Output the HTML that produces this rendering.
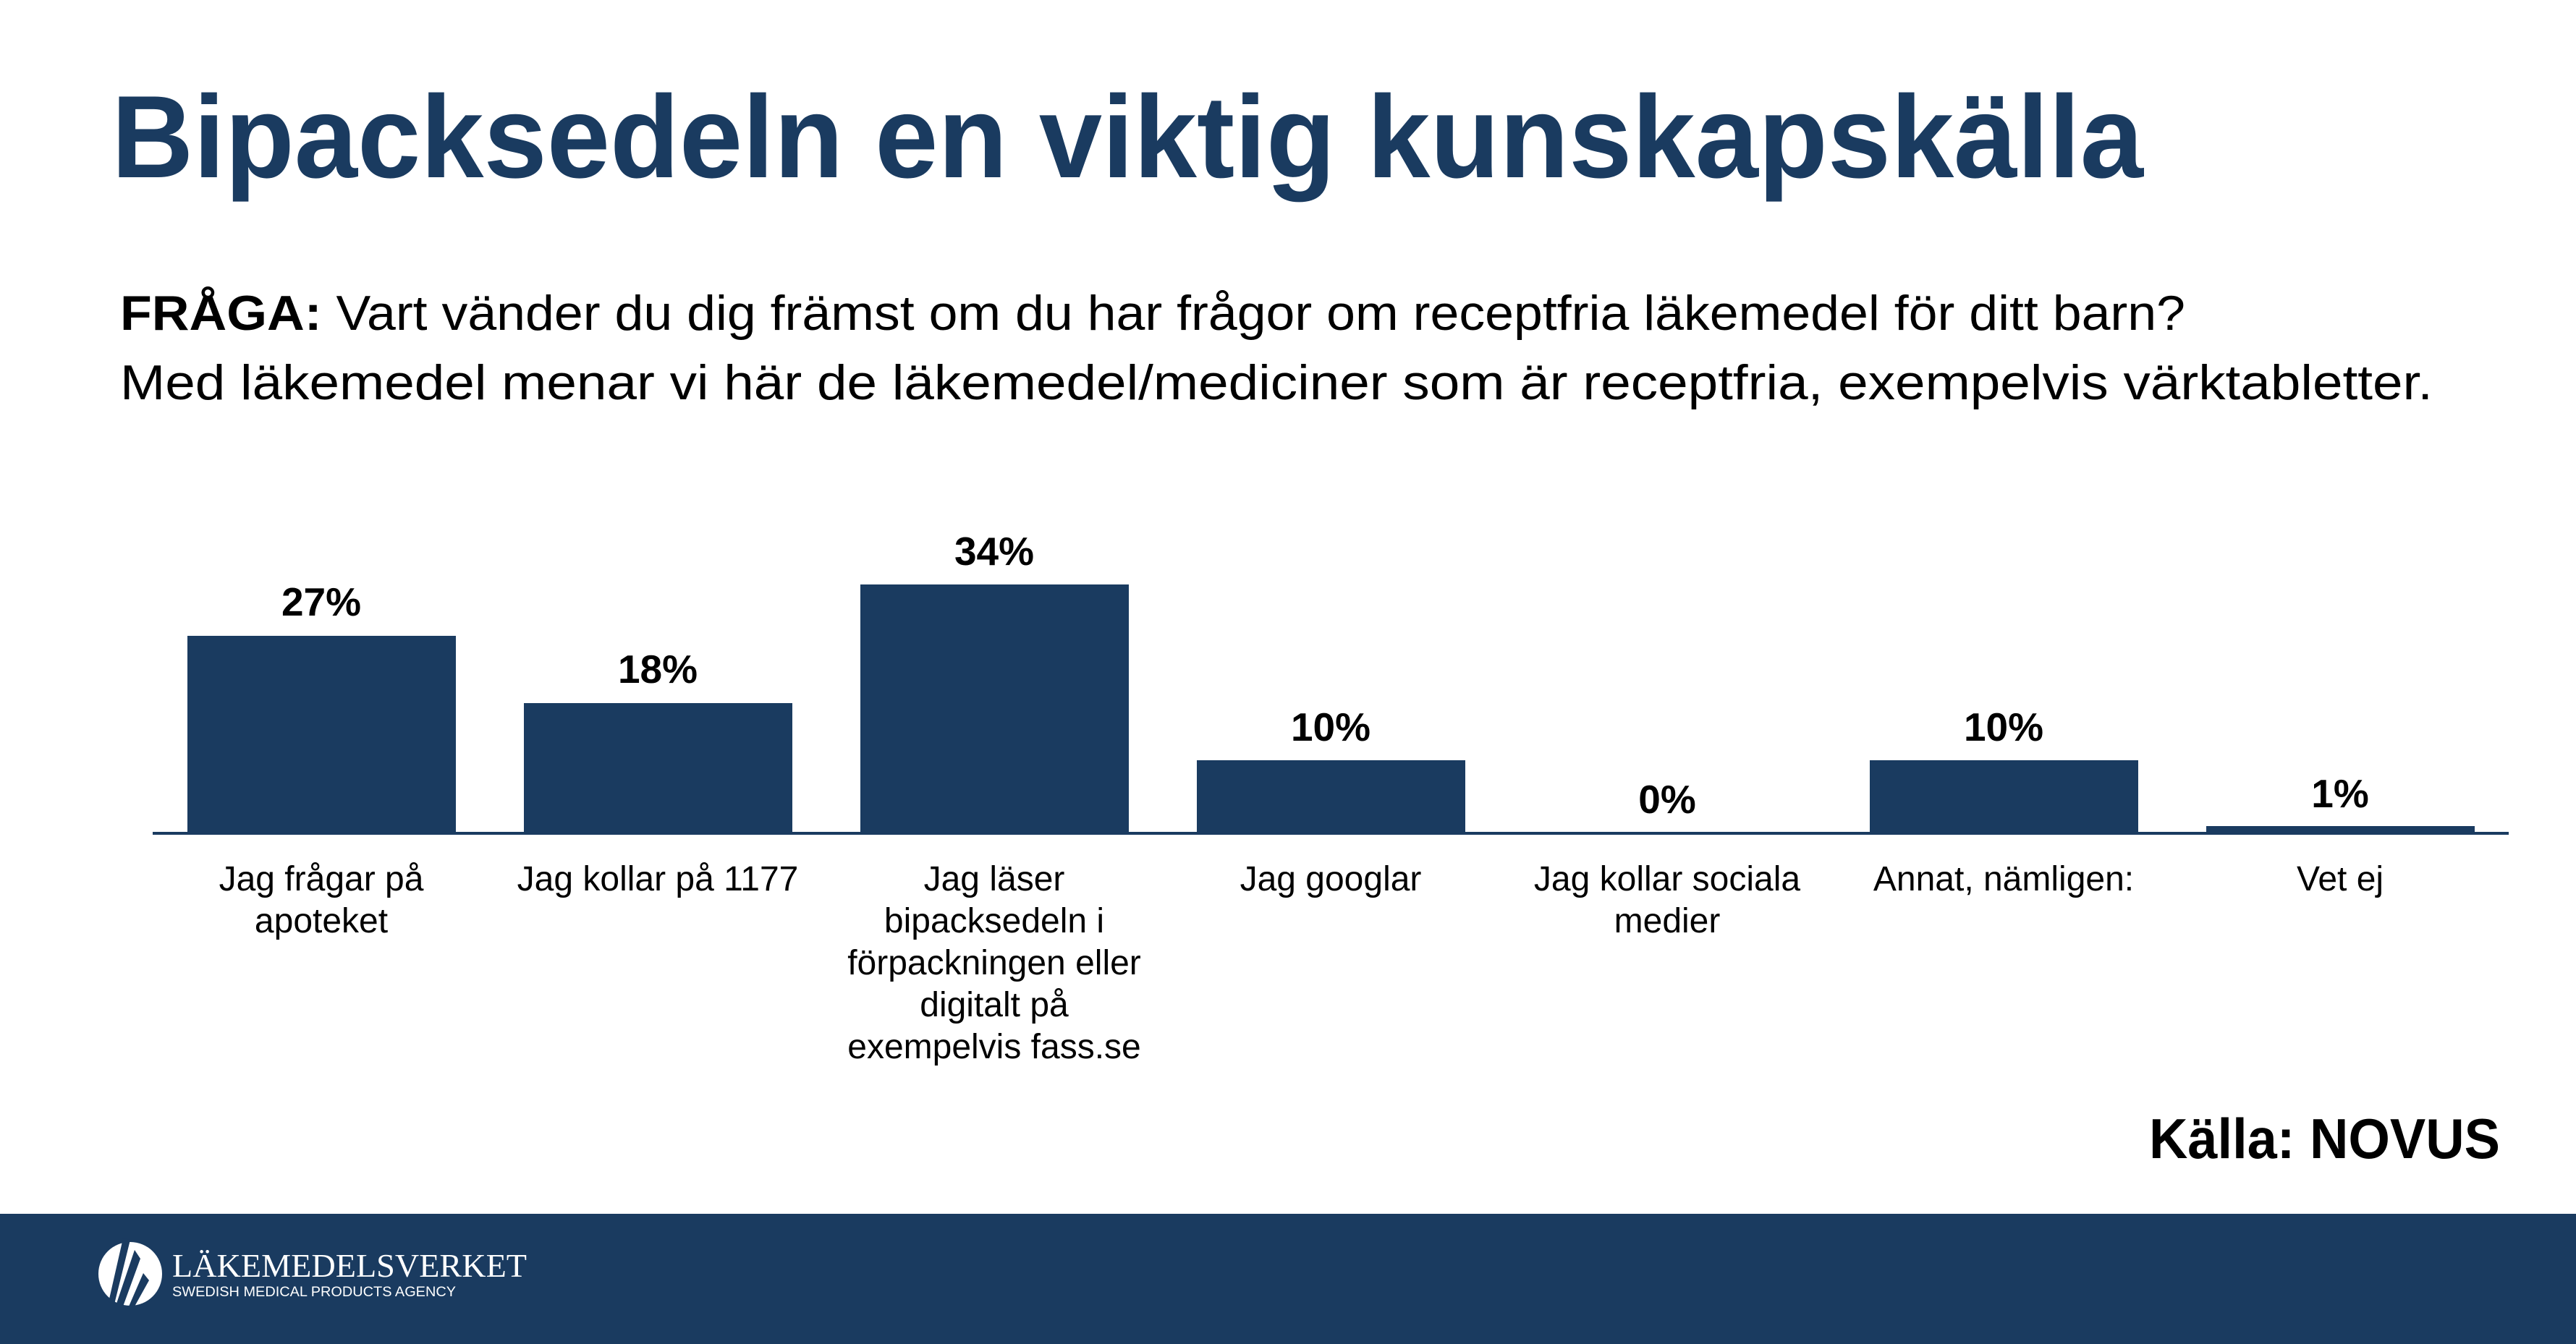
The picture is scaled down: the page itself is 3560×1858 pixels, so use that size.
<!DOCTYPE html>
<html><head><meta charset="utf-8"><style>
html,body{margin:0;padding:0;background:#fff}
svg{display:block}
text{font-family:"Liberation Sans",Arial,sans-serif}
</style></head><body>
<svg width="3560" height="1858" viewBox="0 0 3560 1858" xmlns="http://www.w3.org/2000/svg">
<rect width="3560" height="1858" fill="#fff"/>
<text x="154" y="245" font-size="162" font-weight="bold" fill="#1a3b60" textLength="2808" lengthAdjust="spacingAndGlyphs">Bipacksedeln en viktig kunskapskälla</text>
<text x="166" y="456" font-size="68" fill="#000" textLength="2854" lengthAdjust="spacingAndGlyphs"><tspan font-weight="bold">FRÅGA:</tspan> Vart vänder du dig främst om du har frågor om receptfria läkemedel för ditt barn?</text>
<text x="166" y="552" font-size="68" fill="#000" textLength="3196" lengthAdjust="spacingAndGlyphs">Med läkemedel menar vi här de läkemedel/mediciner som är receptfria, exempelvis värktabletter.</text>
<g fill="#1a3b60">
<rect x="259" y="879" width="371" height="273"/>
<rect x="724" y="972" width="371" height="180"/>
<rect x="1189" y="808" width="371" height="344"/>
<rect x="1654" y="1051" width="371" height="101"/>
<rect x="2584" y="1051" width="371" height="101"/>
<rect x="3049" y="1142" width="371" height="10"/>
<rect x="211" y="1150" width="3256" height="4"/>
</g>
<g font-size="55" font-weight="bold" text-anchor="middle" fill="#000">
<text x="444" y="851">27%</text>
<text x="909" y="944">18%</text>
<text x="1374" y="781">34%</text>
<text x="1839" y="1024">10%</text>
<text x="2304" y="1124">0%</text>
<text x="2769" y="1024">10%</text>
<text x="3234" y="1116">1%</text>
</g>
<g font-size="48" text-anchor="middle" fill="#000">
<text x="444" y="1231">Jag frågar på</text>
<text x="444" y="1289">apoteket</text>
<text x="909" y="1231">Jag kollar på 1177</text>
<text x="1374" y="1231">Jag läser</text>
<text x="1374" y="1289">bipacksedeln i</text>
<text x="1374" y="1347">förpackningen eller</text>
<text x="1374" y="1405">digitalt på</text>
<text x="1374" y="1463">exempelvis fass.se</text>
<text x="1839" y="1231">Jag googlar</text>
<text x="2304" y="1231">Jag kollar sociala</text>
<text x="2304" y="1289">medier</text>
<text x="2769" y="1231">Annat, nämligen:</text>
<text x="3234" y="1231">Vet ej</text>
</g>
<text x="2970" y="1601" font-size="78" font-weight="bold" fill="#000" textLength="485" lengthAdjust="spacingAndGlyphs">Källa: NOVUS</text>
<rect x="0" y="1678" width="3560" height="180" fill="#1a3b60"/>
<ellipse cx="180" cy="1761" rx="44" ry="44" fill="#fff"/>
<path d="M170 1712 L150 1800 L158 1803 L180 1714 Z M186 1728 L160 1805 L170 1806 L194 1740 Z M198 1760 L178 1806 L186 1806 L206 1770 Z" fill="#1a3b60"/>
<text x="238" y="1765" style="font-family:'Liberation Serif',serif" font-size="46" fill="#fff" textLength="490" lengthAdjust="spacingAndGlyphs">LÄKEMEDELSVERKET</text>
<text x="238" y="1792" font-size="19" fill="#fff" textLength="392" lengthAdjust="spacingAndGlyphs">SWEDISH MEDICAL PRODUCTS AGENCY</text>
</svg>
</body></html>
